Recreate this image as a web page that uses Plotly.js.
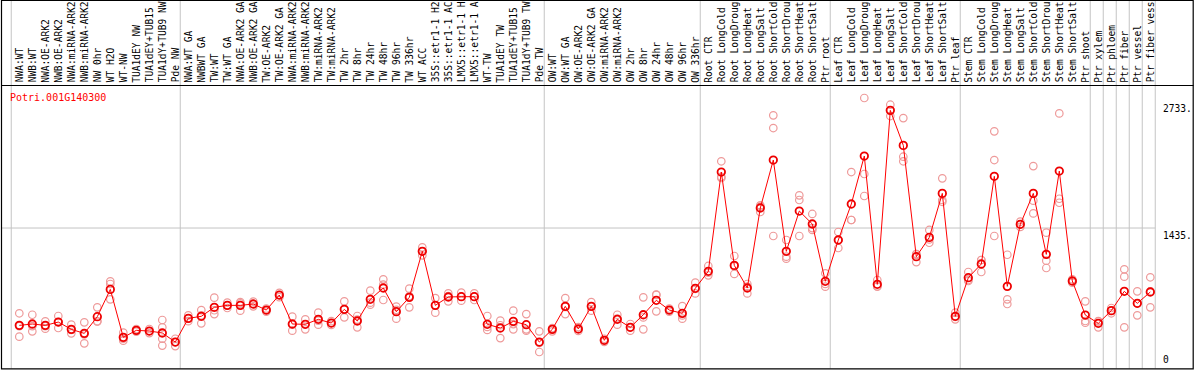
<!DOCTYPE html>
<html>
<head>
<meta charset="utf-8">
<script src="https://cdn.plot.ly/plotly-3.0.1.min.js"></script>
<style>html,body{margin:0;padding:0;background:#fff;}#chart{width:1194px;height:370px;}</style>
</head>
<body>
<div id="chart"></div>
<script>
const geneId = 'Potri.001G140300';

const categories = [
 'NWA:WT','NWB:WT','NWA:OE-ARK2','NWB:OE-ARK2','NWA:miRNA-ARK2','NWB:miRNA-ARK2','NW 0hr','WT H2O','WT-NW',
 'TUA1dEY NW','TUA1dEY+TUB15 NW','TUA1dY+TUB9 NW','Pde NW',
 'NWA:WT GA','NWBWT GA','TW:WT','TW:WT GA','NWA:OE-ARK2 GA','NWB:OE-ARK2 GA','TW:OE-ARK2','TW:OE-ARK2 GA',
 'NWA:miRNA-ARK2 GA','NWB:miRNA-ARK2 GA','TW:miRNA-ARK2','TW:miRNA-ARK2 GA',
 'TW 2hr','TW 8hr','TW 24hr','TW 48hr','TW 96hr','TW 336hr','WT ACC',
 '35S::etr1-1 H2O','35S::etr1-1 ACC','LMX5::etr1-1 H2O','LMX5::etr1-1 ACC','WT-TW',
 'TUA1dEY TW','TUA1dEY+TUB15 TW','TUA1dY+TUB9 TW','Pde TW',
 'OW:WT','OW:WT GA','OW:OE-ARK2','OW:OE-ARK2 GA','OW:miRNA-ARK2','OW:miRNA-ARK2 GA',
 'OW 2hr','OW 8hr','OW 24hr','OW 48hr','OW 96hr','OW 336hr',
 'Root CTR','Root LongCold','Root LongDrought','Root LongHeat','Root LongSalt',
 'Root ShortCold','Root ShortDrought','Root ShortHeat','Root ShortSalt','Ptr root',
 'Leaf CTR','Leaf LongCold','Leaf LongDrought','Leaf LongHeat','Leaf LongSalt',
 'Leaf ShortCold','Leaf ShortDrought','Leaf ShortHeat','Leaf ShortSalt','Ptr leaf',
 'Stem CTR','Stem LongCold','Stem LongDrought','Stem LongHeat','Stem LongSalt',
 'Stem ShortCold','Stem ShortDrought','Stem ShortHeat','Stem ShortSalt','Ptr shoot',
 'Ptr xylem','Ptr phloem','Ptr fiber','Ptr vessel','Ptr fiber vessel'
];

const meanValues = [
 437,451,437,471,396,355,526,806,314,386,379,359,266,
 509,530,622,642,642,656,594,748,451,448,499,461,601,482,704,820,577,724,1196,
 642,728,731,731,448,410,478,444,266,
 396,632,400,632,284,499,417,546,694,594,560,817,
 991,2009,1052,820,1640,2132,1196,1609,1476,889,
 1312,1681,2173,858,2641,2282,1141,1339,1790,530,
 926,1066,1965,837,1473,1790,1165,2019,892,543,
 458,588,786,663,779
];

const replicates = [
 [561,429,321],[546,430,376],[478,430,403],[533,470,410],[444,390,355],[468,345,253],
 [622,478,478],[888,861,704],[362,300,280],[400,386,372],[400,379,358],[492,417,300,230],[300,266,225],
 [540,509,480],[594,540,458],[721,592,553],[670,642,615],[676,662,588],[680,656,632],[610,594,578],
 [770,748,726],[526,445,383],[499,448,396],[567,486,444],[480,461,442],[683,601,519],[533,496,417],
 [793,670,649],[909,855,697],[629,596,506],[813,737,622],[1237,1196,1155],
 [717,642,567],[765,736,683],[772,731,690],[765,731,697],[533,421,390],
 [485,438,307],[588,450,396],[553,396,383],[376,258,164],
 [410,403,376],[717,626,553],[420,400,380],[676,632,588],[300,284,268],[546,507,444],
 [451,417,383],[724,518,396],[752,749,581],[610,594,578],[635,539,506],[875,811,765],
 [1046,977,950],[2119,1960,1948],[1148,1044,964],[861,834,765],[1667,1654,1599],
 [2590,2460,1353],[1312,1141,1121],[1770,1722,1353],[1579,1434,1415],[971,862,834],
 [1394,1312,1230],[2009,1517,1517],[2768,1989,1763],[902,838,834],[2699,2641,2583],
 [2562,2166,2119],[1168,1168,1086],[1415,1318,1284],[1944,1722,1704],[567,524,499],
 [984,902,892],[1107,1107,984],[2426,2132,1353],[1161,704,656],[1500,1473,1446],
 [2070,1715,1585],[1387,1100,1025],[2610,1735,1694],[910,892,874],[683,482,464],
 [480,477,417],[615,588,561],[1012,936,417],[786,663,540],[930,785,622]
];

const yTickValues = [0, 1435, 2733];
const yTickLabels = ['0', '1435.', '2733.'];
// index of first category of each sample group (last entry closes the final group)
const groupStarts = [0, 13, 41, 53, 63, 73, 83, 84, 85, 86, 87, 88];
const maxLabelChars = 14; // header column shows at most 14 characters

// ---- geometry (pixels) ----
const W = 1194, H = 370;
const x0px = 19.3, stepPx = 13;
const y0px = 368, pxPerUnit = (368 - 101.4) / 2733;
const headerBottomPx = 85.5;
const px2paperY = p => 1 - p / H;
const px2paperX = p => p / W;

const xIdx = categories.map((c, i) => i);
const repX = [], repY = [];
replicates.forEach((arr, i) => arr.forEach(v => { repX.push(i); repY.push(v); }));

const traces = [
 {
  x: repX, y: repY, type: 'scatter', mode: 'markers', hoverinfo: 'y',
  marker: {symbol: 'circle-open', size: 7.5, color: '#ee9a9a', line: {width: 1.2}}
 },
 {
  x: xIdx, y: meanValues, type: 'scatter', mode: 'lines+markers', hoverinfo: 'y',
  line: {color: '#ff0000', width: 1},
  marker: {symbol: 'circle-open', size: 7.5, color: '#ee0000', line: {width: 1.8}}
 }
];

const shapes = [];
const sepX = groupStarts.map(g => g - 0.62);
sepX.forEach(x => shapes.push({
  type: 'line', xref: 'x', yref: 'paper', x0: x, x1: x, y0: px2paperY(368.5), y1: 1,
  line: {color: '#c4c4c4', width: 1}, layer: 'below'
}));
// horizontal gridline at middle tick
shapes.push({
  type: 'line', xref: 'x', yref: 'y', x0: (1.5 - x0px) / stepPx, x1: sepX[sepX.length - 1],
  y0: yTickValues[1], y1: yTickValues[1],
  line: {color: '#c4c4c4', width: 1}, layer: 'below'
});
// header separator line
shapes.push({type: 'line', xref: 'paper', yref: 'paper', x0: px2paperX(1), x1: px2paperX(1193.5),
  y0: px2paperY(headerBottomPx), y1: px2paperY(headerBottomPx), line: {color: '#000', width: 1.2}});
// outer frame
shapes.push({type: 'rect', xref: 'paper', yref: 'paper', x0: px2paperX(1.5), x1: px2paperX(1193.2),
  y0: px2paperY(368.8), y1: px2paperY(0.5), line: {color: '#000', width: 1.2}});

const annotations = [];
categories.forEach((c, i) => annotations.push({
  x: i, xref: 'x', y: px2paperY(83.5), yref: 'paper',
  text: c.slice(0, maxLabelChars).trim(), showarrow: false,
  textangle: -90, xanchor: 'center', yanchor: 'bottom', borderpad: 0,
  font: {family: 'DejaVu Sans Mono, monospace', size: 9.6, color: '#000'}
}));
annotations.push({
  x: px2paperX(8.5), xref: 'paper', y: px2paperY(97.5), yref: 'paper', text: geneId, showarrow: false,
  xanchor: 'left', yanchor: 'middle', borderpad: 0,
  font: {family: 'DejaVu Sans Mono, monospace', size: 10, color: '#ff0000'}
});
yTickValues.forEach((v, k) => annotations.push({
  x: px2paperX(1162), xref: 'paper', y: v, yref: 'y', text: yTickLabels[k], showarrow: false,
  xanchor: 'left', yanchor: v === 0 ? 'bottom' : 'top', borderpad: 0, yshift: v === 0 ? 2 : -1,
  font: {family: 'DejaVu Sans Mono, monospace', size: 9.6, color: '#000'}
}));

const layout = {
  width: W, height: H,
  margin: {l: 0, r: 0, t: 0, b: 0, pad: 0},
  paper_bgcolor: '#fff', plot_bgcolor: '#fff',
  showlegend: false,
  xaxis: {range: [-x0px / stepPx, (W - x0px) / stepPx], visible: false, fixedrange: true},
  yaxis: {range: [(y0px - H) / pxPerUnit, y0px / pxPerUnit], visible: false, fixedrange: true},
  shapes: shapes,
  annotations: annotations
};

Plotly.newPlot('chart', traces, layout, {displayModeBar: false, staticPlot: true});
</script>
</body>
</html>
